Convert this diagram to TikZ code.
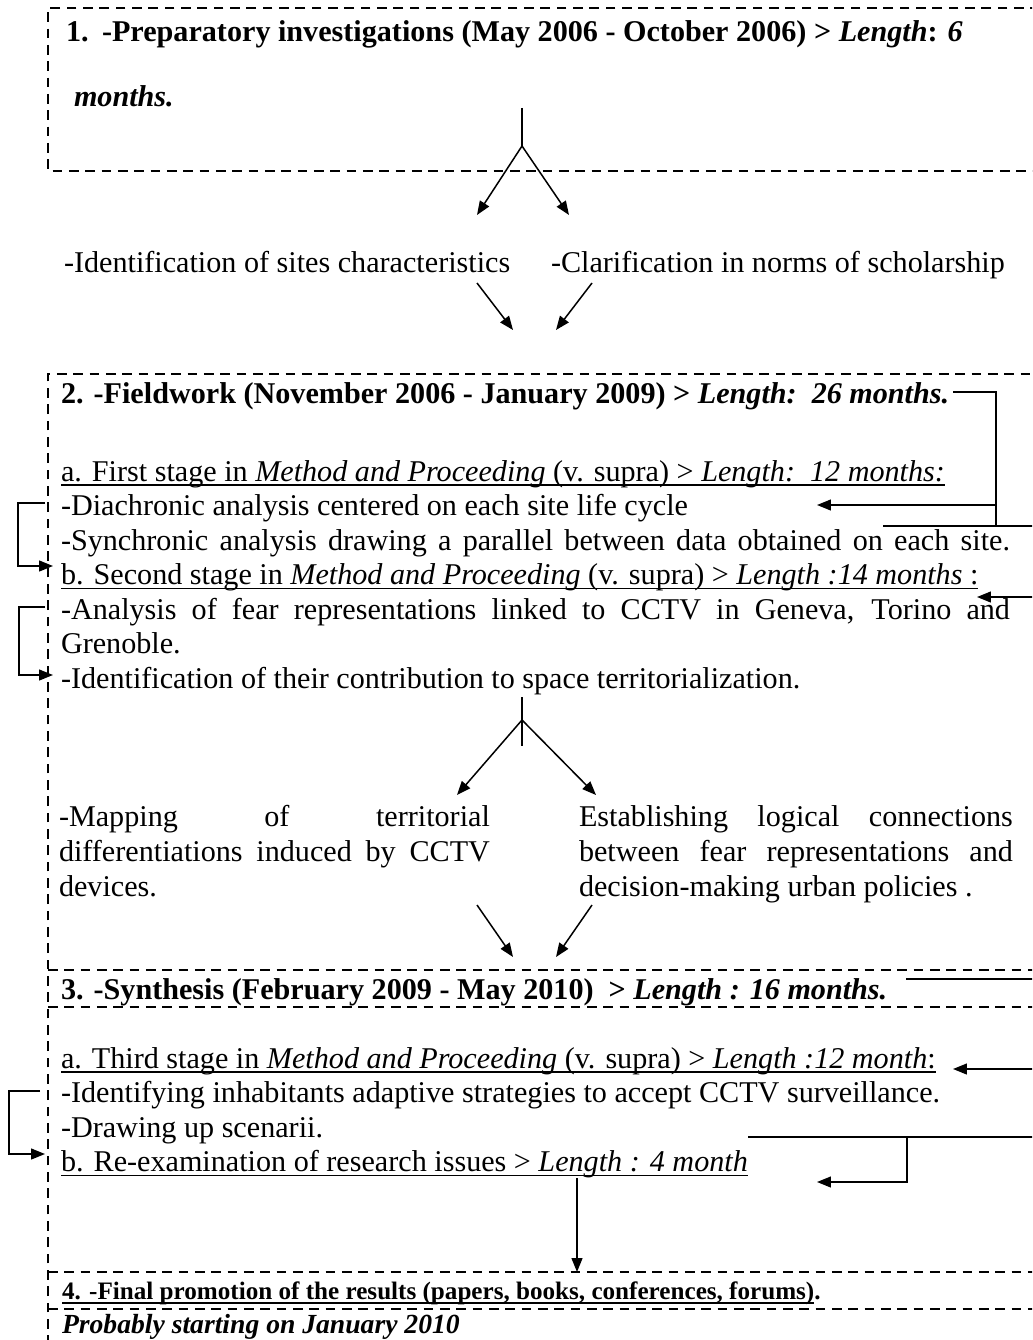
\documentclass[tikz,border=0pt]{standalone}
\usepackage{fontspec}
\setmainfont{Liberation Serif}
\usetikzlibrary{arrows.meta,calc}
\begin{document}
\begin{tikzpicture}[x=0.398pt,y=-0.398pt,
  txt/.style={inner sep=0pt,outer sep=0pt,anchor=base west,font=\fontsize{12}{13.8}\selectfont},
  small/.style={txt,font=\fontsize{10}{11.5}\selectfont},
  mid/.style={txt,font=\fontsize{11}{12.6}\selectfont},
  bx/.style={line width=0.8pt,dash pattern=on 3.9pt off 2.6pt},
  ln/.style={line width=0.6pt},
  arr/.style={ln,-{Triangle[length=5.5pt,width=4.3pt]}},
  ul/.style={line width=0.75pt}]
\clip (0,0) rectangle (1032,1340);
\fill[white] (0,0) rectangle (1032,1340);

% ---------- boxes (dashed frames) ----------
\draw[bx] (1040,8) -- (48,8) -- (48,171) -- (1040,171);
\draw[bx] (48,1345) -- (48,374) -- (1040,374);
\draw[bx] (48,970) -- (1040,970);
\draw[bx] (48,1007) -- (1040,1007);
\draw[bx] (48,1272) -- (1040,1272);
\draw[bx] (48,1309) -- (1040,1309);

% ---------- box 1 ----------
\node[txt] (t1num) at (66,42) {\bfseries 1.};
\node[txt] (t1) at (102,42) {\bfseries -Preparatory investigations (May 2006 - October 2006) > \textit{Length}: \textit{6}};
\node[txt] (t1b) at (74,107) {\bfseries\itshape months.};
\coordinate (c1top) at (522,108);
\coordinate (c1apex) at (522,146);
\coordinate (c1l) at (477,215);
\coordinate (c1r) at (569,215);
\draw[ln] (c1top) -- (c1apex);
\draw[arr] (c1apex) -- (c1l);
\draw[arr] (c1apex) -- (c1r);

% ---------- intermediate items ----------
\node[txt] (i1) at (64,272) {-Identification of sites characteristics};
\node[txt] (i2) at (551,272) {-Clarification in norms of scholarship};
\coordinate (a1s) at (477,283); \coordinate (a1e) at (513,330);
\coordinate (a2s) at (592,283); \coordinate (a2e) at (556,330);
\draw[arr] (a1s) -- (a1e);
\draw[arr] (a2s) -- (a2e);

% ---------- box 2 ----------
\node[txt] (f0) at (61,403) {\bfseries 2. -Fieldwork (November 2006 - January 2009) > \textit{Length:\ \ 26 months.}};
\node[txt] (fa) at (61,481) {a. First stage in \textit{Method and Proceeding} (v. supra) > \textit{Length:\ \ 12 months:}};
\draw[ul] ($(fa.base west)+(0,4)$) -- ($(fa.base east)+(0,4)$);
\node[txt] (f1) at (61,515.5) {-Diachronic analysis centered on each site life cycle};
\node[txt] (f2) at (61,550) {\makebox[377.7pt][s]{-Synchronic analysis drawing a parallel between data obtained on each site.}};
\node[txt] (fb) at (61,584.5) {b. Second stage in \textit{Method and Proceeding} (v. supra) > \textit{Length :14 months} :};
\draw[ul] ($(fb.base west)+(0,4)$) -- ($(fb.base east)+(0,4)$);
\node[txt] (f3) at (61,619) {\makebox[377.7pt][s]{-Analysis of fear representations linked to CCTV in Geneva, Torino and}};
\node[txt] (f4) at (61,653.5) {Grenoble.};
\node[txt] (f5) at (61,688) {-Identification of their contribution to space territorialization.};

% right connector of box 2
\coordinate (rA0) at (953,392); \coordinate (rA1) at (996,392);
\coordinate (rA2) at (996,526); \coordinate (rAb) at (996,505);
\coordinate (rAt) at (817,505);
\coordinate (rB0) at (883,526); \coordinate (rB1) at (1040,526);
\coordinate (rC0) at (1040,597); \coordinate (rCt) at (977,597);
\draw[ln] (rA0) -- (rA1) -- (rA2);
\draw[arr] (rAb) -- (rAt);
\draw[ln] (rB0) -- (rB1);
\draw[arr] (rC0) -- (rCt);

% left brackets of box 2
\coordinate (lA0) at (45,503); \coordinate (lA1) at (18,503);
\coordinate (lA2) at (18,566); \coordinate (lAt) at (53,566);
\draw[arr] (lA0) -- (lA1) -- (lA2) -- (lAt);
\coordinate (lB0) at (45,607); \coordinate (lB1) at (19,607);
\coordinate (lB2) at (19,675); \coordinate (lBt) at (53,675);
\draw[arr] (lB0) -- (lB1) -- (lB2) -- (lBt);

% fork 2
\coordinate (c2top) at (522,697); \coordinate (c2bot) at (522,746);
\coordinate (c2apex) at (522,720);
\coordinate (c2l) at (457,795); \coordinate (c2r) at (596,795);
\draw[ln] (c2top) -- (c2bot);
\draw[arr] (c2apex) -- (c2l);
\draw[arr] (c2apex) -- (c2r);

% two columns
\node[txt] (m1) at (59,826) {\makebox[171.5pt][s]{-Mapping of territorial}};
\node[txt] (m2) at (59,861) {\makebox[171.5pt][s]{differentiations induced by CCTV}};
\node[txt] (m3) at (59,896) {devices.};
\node[txt] (e1) at (579,826) {\makebox[172.7pt][s]{Establishing logical connections}};
\node[txt] (e2) at (579,861) {\makebox[172.7pt][s]{between fear representations and}};
\node[txt] (e3) at (579,896) {decision-making urban policies .};
\coordinate (b1s) at (477,905); \coordinate (b1e) at (513,957);
\coordinate (b2s) at (592,905); \coordinate (b2e) at (556,957);
\draw[arr] (b1s) -- (b1e);
\draw[arr] (b2s) -- (b2e);

% ---------- box 3 ----------
\node[txt] (s0) at (61,999) {\bfseries 3. -Synthesis (February 2009 - May 2010)\ \ > \textit{Length : 16 months.}};
\coordinate (rD0) at (906,979); \coordinate (rD1) at (1040,979);
\draw[ln] (rD0) -- (rD1);
\node[txt] (sa) at (61,1068) {a. Third stage in \textit{Method and Proceeding} (v. supra) > \textit{Length :12 month}:};
\draw[ul] ($(sa.base west)+(0,4)$) -- ($(sa.base east)+(0,4)$);
\coordinate (rE0) at (1040,1069); \coordinate (rEt) at (953,1069);
\draw[arr] (rE0) -- (rEt);
\node[txt] (s1) at (61,1102.5) {-Identifying inhabitants adaptive strategies to accept CCTV surveillance.};
\node[txt] (s2) at (61,1137) {-Drawing up scenarii.};
\node[txt] (sb) at (61,1171.5) {b. Re-examination of research issues > \textit{Length : 4 month}};
\draw[ul] ($(sb.base west)+(0,4)$) -- ($(sb.base east)+(0,4)$);
\coordinate (rF0) at (748,1137); \coordinate (rF1) at (1040,1137);
\coordinate (rFv) at (907,1137); \coordinate (rFb) at (907,1182);
\coordinate (rFt) at (817,1182);
\draw[ln] (rF0) -- (rF1);
\draw[arr] (rFv) -- (rFb) -- (rFt);
\coordinate (lC0) at (40,1091); \coordinate (lC1) at (9,1091);
\coordinate (lC2) at (9,1154); \coordinate (lCt) at (45,1154);
\draw[arr] (lC0) -- (lC1) -- (lC2) -- (lCt);
\coordinate (dS) at (577,1178); \coordinate (dE) at (577,1272);
\draw[arr] (dS) -- (dE);

% ---------- box 4 ----------
\node[small] (p0) at (62,1299) {\bfseries 4. -Final promotion of the results (papers, books, conferences, forums)};
\node[small] (p0d) at (p0.base east) {\bfseries .};
\draw[ul] ($(p0.base west)+(0,4)$) -- ($(p0.base east)+(0,4)$);
\node[mid] (p1) at (62,1333) {\bfseries\itshape Probably starting on January 2010};
\end{tikzpicture}
\end{document}
